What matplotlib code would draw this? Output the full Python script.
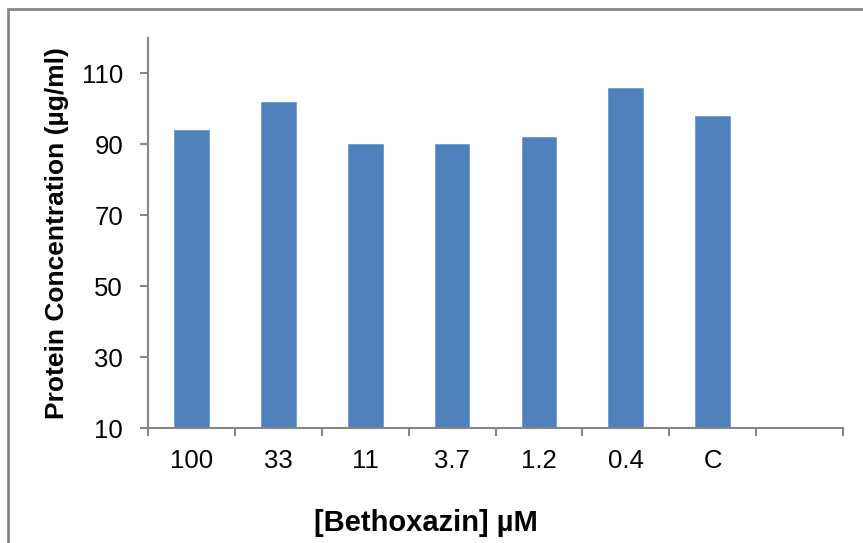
import numpy as np
import matplotlib
matplotlib.use('Agg')
import matplotlib.pyplot as plt
from matplotlib.patches import Rectangle

# Bethoxazin dose series, protein readout
doses = ['100', '33', '11', '3.7', '1.2', '0.4', 'C']
protein = [94, 102, 90, 90, 92, 106, 98]
yticks = [10, 30, 50, 70, 90, 110]

barColor = '#4F81BD'
axisColor = '#868686'
plt.rcParams['font.family'] = ['Liberation Sans', 'DejaVu Sans']

fig = plt.figure(figsize=(8.63, 5.43), dpi=100)
W, H = 863, 543

# chart area outline (runs off the right and bottom edges)
fig.patches.append(Rectangle((8 / W, -0.1), 1.2, (543 - 9) / H + 0.1,
                             transform=fig.transFigure, fill=False,
                             edgecolor=axisColor, linewidth=2.0))

ax = fig.add_axes([148 / W, (543 - 428) / H, (843 - 148) / W, (428 - 38) / H])
x = np.arange(len(doses))
ax.bar(x, np.array(protein) - 10, bottom=10, width=0.40, color=barColor,
       edgecolor='#6F9BD0', linewidth=0.6, zorder=2)

# 8 category slots, last one left empty
ax.set_xlim(-0.5, 7.5)
ax.set_ylim(10, 120)
ax.set_xticks(np.arange(-0.5, 8.0, 1.0))
ax.set_xticklabels([])
ax.set_xticks(x, minor=True)
ax.set_xticklabels(doses, minor=True)
ax.tick_params(axis='x', which='minor', length=0, pad=15, labelsize=18.5)
ax.tick_params(axis='x', which='major', direction='out', length=6,
               width=1.5, color=axisColor)
ax.set_yticks(yticks)
ax.tick_params(axis='y', direction='out', length=6, width=1.5,
               color=axisColor, pad=12, labelsize=18.5)

for side in ['top', 'right']:
    ax.spines[side].set_visible(False)
for side in ['left', 'bottom']:
    ax.spines[side].set_color(axisColor)
    ax.spines[side].set_linewidth(1.5)

ax.set_ylabel('Protein Concentration (µg/ml)', fontsize=19, fontweight='bold',
              va='center')
ax.yaxis.set_label_coords((57 - 148) / 695, 0.5)
ax.set_xlabel('[Bethoxazin] µM', fontsize=21, fontweight='bold', va='center')
ax.xaxis.set_label_coords((426 - 148) / 695, (428 - 523) / 390)

fig.savefig('out.png', dpi=100)
